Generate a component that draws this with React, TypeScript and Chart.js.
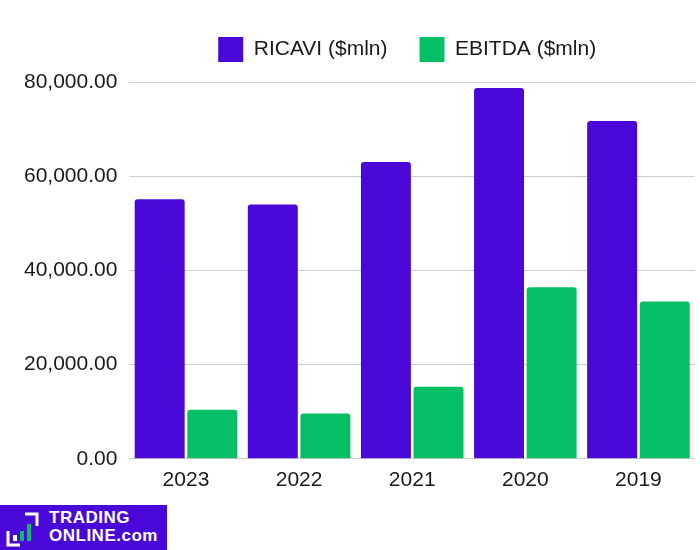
import React, { useEffect, useRef } from "react";
import { Chart, registerables } from "chart.js";

Chart.register(...registerables);

const categories = ["2023", "2022", "2021", "2020", "2019"];
const ricavi = [55100, 54000, 63000, 78700, 71700];
const ebitda = [10400, 9600, 15300, 36400, 33400];
const seriesNames = ["RICAVI ($mln)", "EBITDA ($mln)"];
const yTicks = [0, 20000, 40000, 60000, 80000];

const FONT = "'Liberation Sans', Arial, sans-serif";

const legendTweak = {
  id: "legendTweak",
  beforeInit(chart: any) {
    const fit = chart.legend.fit;
    chart.legend.fit = function () {
      fit.bind(chart.legend)();
      this.height = 77;
    };
  },
  beforeDraw(chart: any) {
    const lg = chart.legend;
    if (lg) {
      lg.left = chart.chartArea.left - 5;
      lg.right = chart.chartArea.right - 5;
    }
  },
};

export default function App() {
  const ref = useRef<HTMLCanvasElement | null>(null);

  useEffect(() => {
    if (!ref.current) return;
    const chart = new Chart(ref.current, {
      type: "bar",
      data: {
        labels: categories,
        datasets: [
          {
            label: seriesNames[0],
            data: ricavi,
            backgroundColor: "#4a08d8",
            borderRadius: 3,
            categoryPercentage: 0.93,
            barPercentage: 0.95,
          },
          {
            label: seriesNames[1],
            data: ebitda,
            backgroundColor: "#05bf66",
            borderRadius: 3,
            categoryPercentage: 0.93,
            barPercentage: 0.95,
          },
        ],
      },
      plugins: [legendTweak],
      options: {
        animation: false,
        responsive: false,
        maintainAspectRatio: false,
        layout: { padding: { top: 5, right: 5, bottom: 56, left: 12 } },
        plugins: {
          tooltip: { enabled: false },
          legend: {
            position: "top",
            fullSize: false,
            labels: {
              boxWidth: 25,
              boxHeight: 25,
              padding: 32,
              color: "#1a1a1a",
              font: { family: FONT, size: 21 },
            },
          },
        },
        scales: {
          x: {
            grid: { display: false },
            border: { display: false },
            ticks: {
              color: "#1a1a1a",
              font: { family: FONT, size: 21 },
              padding: 1,
            },
          },
          y: {
            min: 0,
            max: 80000,
            afterBuildTicks: (axis: any) => {
              axis.ticks = yTicks.map((v) => ({ value: v }));
            },
            grid: { color: "#cccccc", drawTicks: false },
            border: { display: false },
            ticks: {
              color: "#1a1a1a",
              padding: 12,
              font: { family: FONT, size: 21 },
              callback: (v: any) =>
                Number(v).toLocaleString("en-US", {
                  minimumFractionDigits: 2,
                  maximumFractionDigits: 2,
                }),
            },
          },
        },
      },
    });
    return () => chart.destroy();
  }, []);

  return (
    <div style={{ position: "absolute", left: 0, top: 0, width: 700, height: 550, background: "#fff" }}>
      <canvas ref={ref} width={700} height={550} style={{ width: 700, height: 550, display: "block" }} />
      <div
        style={{
          position: "absolute",
          left: 0,
          top: 505,
          width: 167,
          height: 45,
          background: "#4a08d8",
        }}
      >
        <svg width={44} height={45} style={{ position: "absolute", left: 0, top: 0 }}>
          <polyline points="25,9 37,9 37,21" fill="none" stroke="#fff" strokeWidth={3} />
          <polyline points="8,26 8,40 20,40" fill="none" stroke="#fff" strokeWidth={3} />
          <rect x={13} y={30} width={4} height={6} fill="#fff" />
          <rect x={20} y={26} width={4} height={10} fill="#05bf66" />
          <rect x={27} y={19} width={4} height={17} fill="#05bf66" />
        </svg>
        <div
          style={{
            position: "absolute",
            left: 49,
            top: 4,
            color: "#fff",
            fontFamily: FONT,
            fontWeight: 700,
            fontSize: 17,
            lineHeight: "18px",
            letterSpacing: 0.5,
          }}
        >
          <div>TRADING</div>
          <div>ONLINE.com</div>
        </div>
      </div>
    </div>
  );
}
